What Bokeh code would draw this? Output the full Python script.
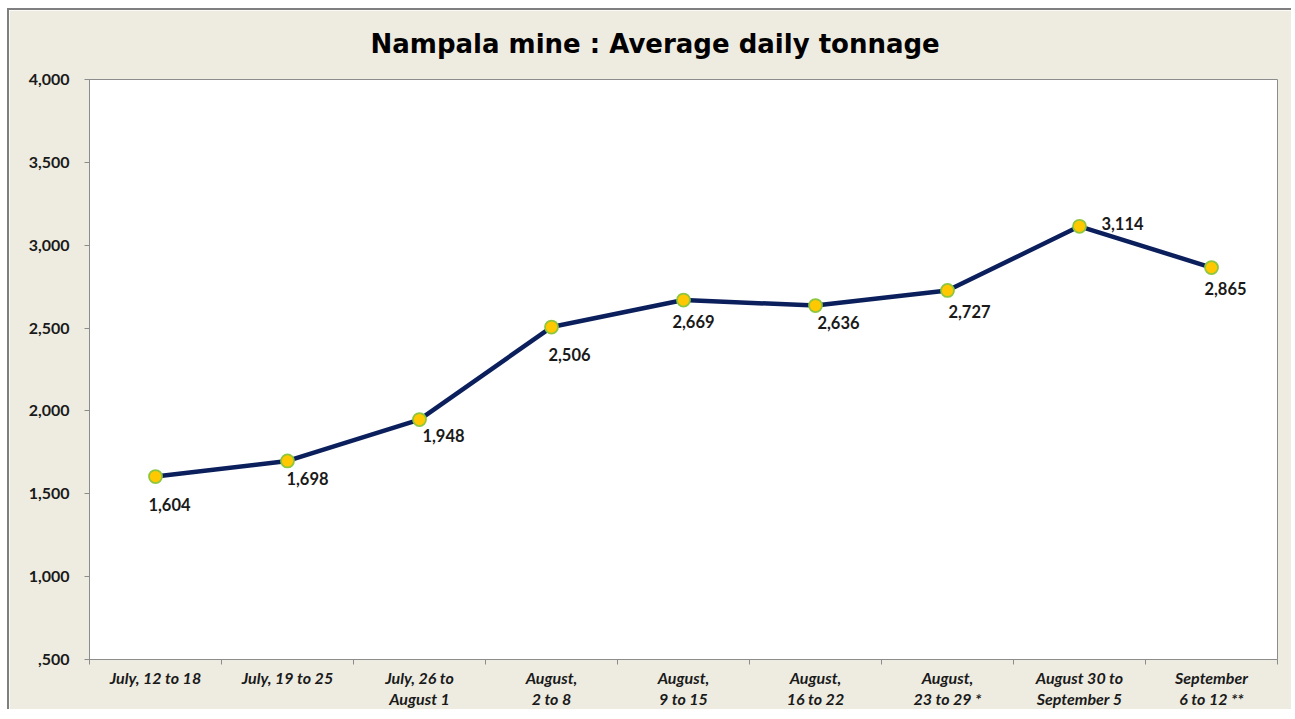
import numpy as np
from bokeh.plotting import figure
from bokeh.models import FixedTicker, LinearAxis, Range1d, ColumnDataSource
from bokeh.core.properties import value
from bokeh.embed import file_html
from bokeh.resources import INLINE

categories = ["July, 12 to 18", "July, 19 to 25", "July, 26 to\nAugust 1",
              "August,\n2 to 8", "August,\n9 to 15", "August,\n16 to 22",
              "August,\n23 to 29 *", "August 30 to\nSeptember 5", "September\n6 to 12 **"]
tonnage = [1604, 1698, 1948, 2506, 2669, 2636, 2727, 3114, 2865]
y_ticks = [500, 1000, 1500, 2000, 2500, 3000, 3500, 4000]
y_tick_labels = [",500", "1,000", "1,500", "2,000", "2,500", "3,000", "3,500", "4,000"]

# label placement (pixel offsets, style only)
label_dx = [14, 20, 24, 18, 10, 23, 22, 43, 14]
label_dy = [28, 18, 16, 27, 21, 17, 21, -3, 21]

BG = "#EEECE1"
GRID = "#8C8C8C"

xpos = np.arange(len(categories)) + 0.5
src = ColumnDataSource(dict(x=xpos, y=tonnage,
                            lab=[f"{v:,}" for v in tonnage],
                            dx=label_dx, dy=label_dy))

p = figure(width=1284, height=701, output_backend="svg", toolbar_location=None,
           x_range=Range1d(0, len(categories)), y_range=Range1d(500, 4000),
           x_axis_type=None, y_axis_type=None,
           min_border_left=80, min_border_right=16, min_border_top=69, min_border_bottom=50,
           background_fill_color="white", border_fill_color=BG,
           outline_line_color=GRID, outline_line_width=1,
           title="Nampala mine : Average daily tonnage")
p.styles = {"margin-left": "7px", "margin-top": "8px",
            "border-left": "2px solid #7F7F7F", "border-top": "2px solid #7F7F7F"}

p.title.align = "left"
p.title.offset = 281
p.title.vertical_align = "top"
p.title.text_font = "DejaVu Sans"
p.title.text_font_style = "bold"
p.title.text_font_size = "26px"
p.title.text_color = "black"
p.title.standoff = 37

# y axis
yax = LinearAxis(ticker=FixedTicker(ticks=y_ticks),
                 major_label_overrides={t: l for t, l in zip(y_ticks, y_tick_labels)})
yax.axis_line_color = GRID
yax.major_tick_line_color = GRID
yax.major_tick_out = 5
yax.major_tick_in = 0
yax.minor_tick_line_color = None
yax.major_label_standoff = 15
yax.major_label_text_font = "Lato"
yax.major_label_text_font_style = "bold"
yax.major_label_text_font_size = "16px"
yax.major_label_text_color = "#1A1A1A"
p.add_layout(yax, "left")

# x axis: labels at centres, ticks at boundaries (minor ticks)
xax = LinearAxis(ticker=FixedTicker(ticks=list(xpos),
                                    minor_ticks=list(range(len(categories) + 1))),
                 major_label_overrides={float(x): c for x, c in zip(xpos, categories)})
xax.axis_line_color = GRID
xax.major_tick_line_color = None
xax.minor_tick_line_color = GRID
xax.minor_tick_out = 5
xax.minor_tick_in = 0
xax.major_label_standoff = 2
xax.major_label_text_font = "Lato"
xax.major_label_text_font_style = "bold italic"
xax.major_label_text_font_size = "16px"
xax.major_label_text_color = "#1A1A1A"
xax.major_label_text_line_height = 1.15
p.add_layout(xax, "below")

p.ygrid.ticker = FixedTicker(ticks=y_ticks)
p.ygrid.grid_line_color = GRID
p.ygrid.grid_line_width = 1
p.xgrid.grid_line_color = None

p.line("x", "y", source=src, line_color="#0B1F5C", line_width=4.5, line_join="round")
p.scatter("x", "y", source=src, size=13, fill_color="#FFC800",
          line_color="#8DC63F", line_width=1.8)
p.text("x", "y", text="lab", source=src, x_offset="dx", y_offset="dy",
       text_align="center", text_baseline="middle",
       text_font=value("Lato"), text_font_style="bold", text_font_size="16.5px",
       text_color="#1A1A1A")

open("out.html", "w").write(file_html(p, INLINE))
